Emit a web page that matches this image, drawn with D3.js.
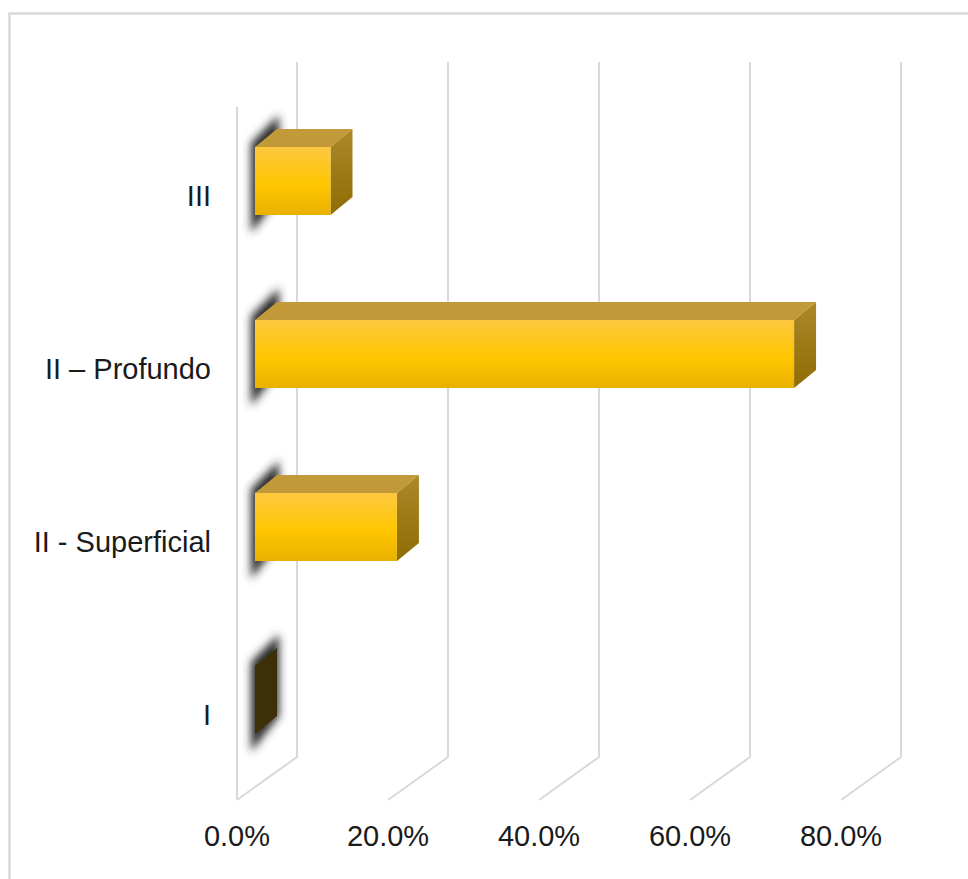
<!DOCTYPE html>
<html>
<head>
<meta charset="utf-8">
<script src="https://cdn.jsdelivr.net/npm/d3@7"></script>
<style>
  html, body { margin: 0; padding: 0; background: #fff; }
  svg { display: block; }
</style>
</head>
<body>
<svg id="chart" width="968" height="879"></svg>
<script>
// ---- data ----
const categories = ["III", "II \u2013 Profundo", "II - Superficial", "I"];
const values = [0.10, 0.714, 0.188, 0.0];
const tickValues = [0, 0.2, 0.4, 0.6, 0.8];
const tickLabels = ["0.0%", "20.0%", "40.0%", "60.0%", "80.0%"];

// ---- layout ----
const svg = d3.select("#chart");
const fontFam = "'Liberation Sans', Arial, Helvetica, sans-serif";

// frame
svg.append("rect").attr("x", 9.5).attr("y", 13.5).attr("width", 1000).attr("height", 900)
  .attr("fill", "#fff").attr("stroke", "#d9d9d9").attr("stroke-width", 2.5);

// 3D projection parameters
const wallDX = 60, wallDY = -43;
const barDX = 22, barDY = -18;
const floorY = 800, wallTop = 62 - wallDY;

// scales
const xFloor = d3.scaleLinear().domain([0, 0.8]).range([237, 237 + 604]);
const xBack = d3.scaleLinear().domain([0, 0.8]).range([297, 297 + 604]);
const xBar = d3.scaleLinear().domain([0, 0.8]).range([255, 255 + 604]);

const y = d3.scaleBand().domain(categories).range([94.5, 786.5])
  .paddingInner(1 - 68 / 173).paddingOuter((1 - 68 / 173) / 2);

const defs = svg.append("defs");
const fg = defs.append("linearGradient").attr("id", "front").attr("x1", 0).attr("y1", 0).attr("x2", 0).attr("y2", 1);
fg.append("stop").attr("offset", "0%").attr("stop-color", "#fdc83f");
fg.append("stop").attr("offset", "55%").attr("stop-color", "#ffc600");
fg.append("stop").attr("offset", "100%").attr("stop-color", "#e9b100");
const sg = defs.append("linearGradient").attr("id", "side").attr("x1", 0).attr("y1", 0).attr("x2", 0).attr("y2", 1);
sg.append("stop").attr("offset", "0%").attr("stop-color", "#ad8829");
sg.append("stop").attr("offset", "100%").attr("stop-color", "#8f6c04");
defs.append("filter").attr("id", "blur").attr("x", "-100%").attr("y", "-50%").attr("width", "300%").attr("height", "200%")
  .append("feGaussianBlur").attr("stdDeviation", 4.5);

// gridlines
const grid = svg.append("g").attr("fill", "none").attr("stroke", "#d9d9d9").attr("stroke-width", 2);
grid.selectAll("path.g").data(tickValues).join("path").attr("class", "g")
  .attr("d", d => `M${xBack(d)},62 L${xBack(d)},${floorY + wallDY} L${xFloor(d)},${floorY}`);
grid.append("path").attr("d", `M${xFloor(0)},${wallTop + 2} L${xFloor(0)},${floorY}`);

// shadows
const shadows = svg.append("g").attr("filter", "url(#blur)");
categories.forEach((c, i) => {
  const y0 = y(c), y1 = y0 + y.bandwidth();
  const x0 = xBar(0) - 4;
  shadows.append("path")
    .attr("fill", "#2a2a2a")
    .attr("d", `M${x0},${y0 - 4} L${x0 + barDX + 6},${y0 + barDY - 14} L${x0 + barDX + 6},${y1 + barDY} L${x0},${y1 + 18} Z`);
});

// bars
const bars = svg.append("g");
categories.forEach((c, i) => {
  const v = values[i];
  const y0 = y(c), y1 = y0 + y.bandwidth();
  const x0 = xBar(0), x1 = xBar(v);
  const g = bars.append("g");
  if (v > 0) {
    g.append("path").attr("fill", "#c29a3a")
      .attr("d", `M${x0},${y0} L${x1},${y0} L${x1 + barDX},${y0 + barDY} L${x0 + barDX},${y0 + barDY} Z`);
    g.append("path").attr("fill", "url(#side)")
      .attr("d", `M${x1},${y0} L${x1 + barDX},${y0 + barDY} L${x1 + barDX},${y1 + barDY} L${x1},${y1} Z`);
    g.append("rect").attr("x", x0).attr("y", y0).attr("width", x1 - x0).attr("height", y1 - y0)
      .attr("fill", "url(#front)");
  } else {
    g.append("path").attr("fill", "#3d2f08")
      .attr("d", `M${x1},${y0} L${x1 + barDX},${y0 + barDY} L${x1 + barDX},${y1 + barDY} L${x1},${y1} Z`);
  }
});

// category labels
svg.append("g").selectAll("text").data(categories).join("text")
  .attr("x", 211).attr("y", d => y(d) + y.bandwidth() / 2 + 25)
  .attr("text-anchor", "end").attr("font-family", fontFam).attr("font-size", 29)
  .attr("fill", "#1a1a1a").text(d => d);

// value axis labels
svg.append("g").selectAll("text").data(tickValues).join("text")
  .attr("x", d => xFloor(d)).attr("y", 846)
  .attr("text-anchor", "middle").attr("font-family", fontFam).attr("font-size", 29)
  .attr("fill", "#1a1a1a").text((d, i) => tickLabels[i]);
</script>
</body>
</html>
